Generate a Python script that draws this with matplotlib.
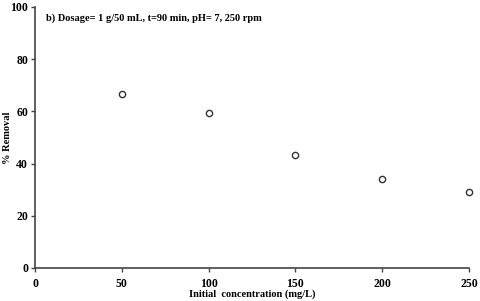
import matplotlib.pyplot as plt

# initial concentration (mg/L) vs % removal
conc = [50, 100, 150, 200, 250]
removal = [66.8, 59.3, 43.4, 34.1, 29.2]
xticks = [0, 50, 100, 150, 200, 250]
yticks = [0, 20, 40, 60, 80, 100]

plt.rcParams['font.family'] = ['Liberation Serif', 'DejaVu Serif']
plt.rcParams['font.weight'] = 'bold'

fig = plt.figure(figsize=(4.8, 3.01), dpi=100)
ax = fig.add_axes([0.073, 0.110, 0.904, 0.867])

ax.plot(conc, removal, 'o', mfc='white', mec='#333333', mew=1.0, ms=4.5, clip_on=False)

ax.set_xlim(0, 250)
ax.set_ylim(0, 100)
ax.set_xticks(xticks)
ax.set_yticks(yticks)
ax.tick_params(length=3, width=1, labelsize=8.5, pad=2, color='#444444')
ax.tick_params(axis='x', pad=4)
for lab in ax.get_xticklabels() + ax.get_yticklabels():
    lab.set_fontweight('bold')

ax.spines['top'].set_visible(False)
ax.spines['right'].set_visible(False)
ax.spines['left'].set_color('#444444')
ax.spines['bottom'].set_color('#444444')
ax.spines['left'].set_linewidth(1.2)
ax.spines['bottom'].set_linewidth(1.2)

ax.set_xlabel('Initial  concentration (mg/L)', fontsize=7.5, fontweight='bold', labelpad=0)
ax.set_ylabel('% Removal', fontsize=7.5, fontweight='bold', va='center')
ax.yaxis.set_label_coords(-0.063, 0.5)

ax.text(0.025, 0.975, 'b) Dosage= 1 g/50 mL, t=90 min, pH= 7, 250 rpm',
        transform=ax.transAxes, fontsize=7.5, fontweight='bold', va='top', ha='left')

fig.savefig('out.png', dpi=100)
